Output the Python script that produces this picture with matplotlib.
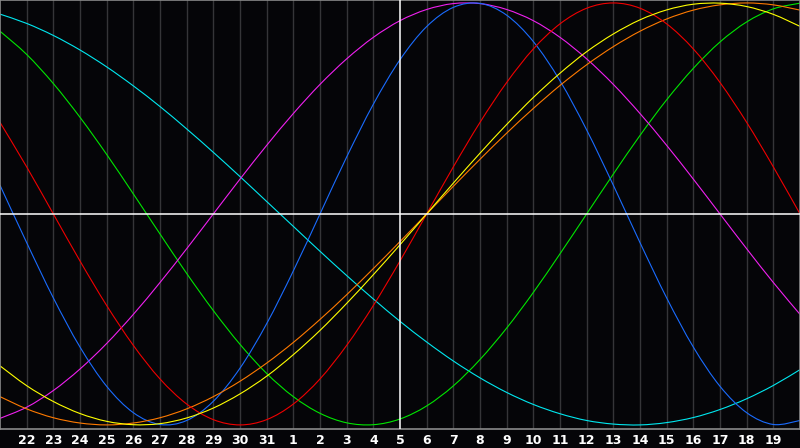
import matplotlib
matplotlib.use("Agg")
import matplotlib.pyplot as plt
from matplotlib.path import Path
from matplotlib.patches import PathPatch

# day labels along the bottom (30 day window, today = 5)
days = ["22", "23", "24", "25", "26", "27", "28", "29", "30", "31",
        "1", "2", "3", "4", "5", "6", "7", "8", "9", "10",
        "11", "12", "13", "14", "15", "16", "17", "18", "19"]
today = "5"

# cycle values, one per day slot (left edge .. right edge)
blue = [0.136, -0.136, -0.398, -0.631, -0.817, -0.942, -0.998, -0.979, -0.888, -0.731,
        -0.520, -0.270, 0.0, 0.270, 0.520, 0.731, 0.888, 0.979, 0.998, 0.942,
        0.817, 0.631, 0.398, 0.136, -0.136, -0.398, -0.631, -0.817, -0.942, -0.998, -0.979]
red = [0.434, 0.223, 0.0, -0.223, -0.434, -0.623, -0.782, -0.901, -0.975, -1.0,
       -0.975, -0.901, -0.782, -0.623, -0.434, -0.223, 0.0, 0.223, 0.434, 0.623,
       0.782, 0.901, 0.975, 1.0, 0.975, 0.901, 0.782, 0.623, 0.434, 0.223, 0.0]
green = [0.866, 0.756, 0.618, 0.458, 0.282, 0.095, -0.095, -0.282, -0.458, -0.618,
         -0.756, -0.866, -0.945, -0.990, -0.999, -0.972, -0.910, -0.815, -0.690, -0.541,
         -0.372, -0.189, 0.0, 0.189, 0.372, 0.541, 0.690, 0.815, 0.910, 0.972, 0.999]
magenta = [-0.969, -0.916, -0.837, -0.735, -0.614, -0.476, -0.325, -0.165, 0.0, 0.165,
           0.325, 0.476, 0.614, 0.735, 0.837, 0.916, 0.969, 0.997, 0.997, 0.969,
           0.916, 0.837, 0.735, 0.614, 0.476, 0.325, 0.165, 0.0, -0.165, -0.325, -0.476]
yellow = [-0.720, -0.814, -0.889, -0.946, -0.983, -0.999, -0.994, -0.967, -0.920, -0.853,
          -0.769, -0.667, -0.552, -0.424, -0.288, -0.146, 0.0, 0.146, 0.288, 0.424,
          0.552, 0.667, 0.769, 0.853, 0.920, 0.967, 0.994, 0.999, 0.983, 0.946, 0.889]
orange = [-0.866, -0.924, -0.966, -0.991, -1.0, -0.991, -0.966, -0.924, -0.866, -0.793,
          -0.707, -0.609, -0.5, -0.383, -0.259, -0.131, 0.0, 0.131, 0.259, 0.383,
          0.5, 0.609, 0.707, 0.793, 0.866, 0.924, 0.966, 0.991, 1.0, 0.991, 0.966]
cyan = [0.947, 0.903, 0.846, 0.777, 0.697, 0.607, 0.509, 0.403, 0.292, 0.177,
        0.059, -0.059, -0.177, -0.292, -0.403, -0.509, -0.607, -0.697, -0.777, -0.846,
        -0.903, -0.947, -0.979, -0.996, -1.0, -0.989, -0.965, -0.927, -0.876, -0.813, -0.738]

series = [
    (cyan, "#00e8f0"),
    (green, "#00e600"),
    (magenta, "#f020f0"),
    (blue, "#1a6cff"),
    (orange, "#ff7a00"),
    (red, "#f00000"),
    (yellow, "#ffff00"),
]


def smooth_path(xs, ys):
    # catmull-rom style bezier through the given points (rendering only)
    verts = [(xs[0], ys[0])]
    codes = [Path.MOVETO]
    n = len(xs)
    for i in range(n - 1):
        x0, y0 = (xs[i - 1], ys[i - 1]) if i > 0 else (xs[i], ys[i])
        x1, y1 = xs[i], ys[i]
        x2, y2 = xs[i + 1], ys[i + 1]
        x3, y3 = (xs[i + 2], ys[i + 2]) if i + 2 < n else (x2, y2)
        verts += [(x1 + (x2 - x0) / 6, y1 + (y2 - y0) / 6),
                  (x2 - (x3 - x1) / 6, y2 - (y3 - y1) / 6),
                  (x2, y2)]
        codes += [Path.CURVE4] * 3
    return Path(verts, codes)


bg = "#050508"
fig = plt.figure(figsize=(8, 4.48), dpi=100, facecolor=bg)
ax = fig.add_axes([0, 19.5 / 448, 1, 428.5 / 448])
ax.set_facecolor(bg)

slots = list(range(len(red)))
ticks = list(range(1, len(days) + 1))

# day grid
for t, d in zip(ticks, days):
    if d == today:
        ax.axvline(t, color="white", lw=1.1, zorder=3)
    else:
        ax.axvline(t, color="#353538", lw=1.0, zorder=1)
ax.axhline(0, color="white", lw=1.1, zorder=3)

for vals, col in series:
    ax.add_patch(PathPatch(smooth_path(slots, vals), fill=False,
                           edgecolor=col, lw=0.8, zorder=2))

ax.set_xlim(0, 30)
ax.set_ylim(-1.017, 1.014)
ax.set_yticks([])
ax.set_xticks(ticks)
ax.set_xticklabels(days, color="white", fontsize=9, fontweight="bold")
ax.tick_params(axis="x", length=0, pad=4)
for s in ax.spines.values():
    s.set_color("#8a8a8a")
    s.set_linewidth(1.2)

fig.savefig("out.png", dpi=100, facecolor=bg)
